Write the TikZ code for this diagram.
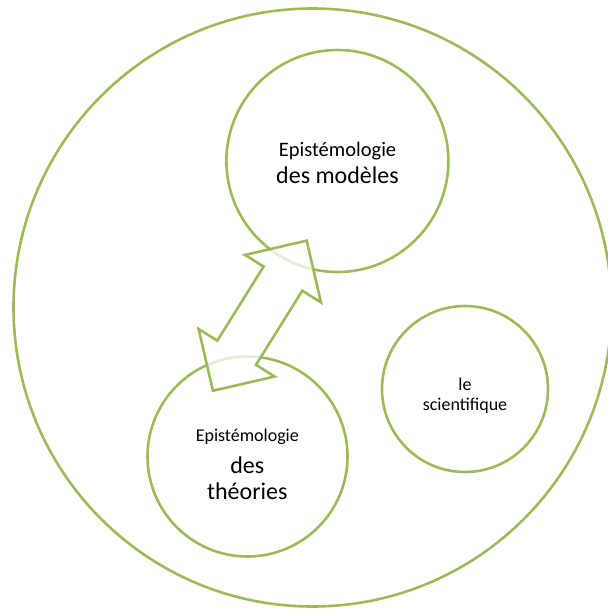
\documentclass[tikz,border=0pt]{standalone}
\usepackage{fontspec}
\setmainfont{Carlito}
\usetikzlibrary{shapes.arrows, positioning}
\definecolor{leafgreen}{RGB}{155,187,89}
\tikzstyle{ring} = [draw=leafgreen, line width=2.6pt, circle, inner sep=0pt]
\tikzstyle{word} = [anchor=base, text=black]

\begin{document}
\begin{tikzpicture}[x=1pt, y=-1pt]
    \useasboundingbox (0,0) rectangle (608,614);
    \node[ring, minimum size=598pt] (world) at (312.5,307.5) {};
    \node[ring, minimum size=222pt] (models) at (337.4,161) {};
    \node[ring, minimum size=200pt] (theories) at (247.5,456.5) {};
    \node[ring, minimum size=166pt] (scient) at (465,389) {};
    \node[double arrow, draw=leafgreen, line width=2.6pt, fill=white, fill opacity=0.75,
          minimum height=177pt, minimum width=87pt, inner xsep=0pt, inner ysep=21.5pt,
          double arrow head extend=22pt, rotate=58] (link) at (259.8,315.7) {};
    \node[word, font=\fontsize{20.5}{25}\selectfont] (mtop) at (337.5,156) {Epistémologie};
    \node[word, font=\fontsize{24}{29}\selectfont] (mbot) at (337.5,183.3) {des modèles};
    \node[word, font=\fontsize{18}{22}\selectfont] (ttop) at (247.3,441.7) {Epistémologie};
    \node[word, font=\fontsize{24}{29}\selectfont] (tmid) at (247.3,473.3) {des};
    \node[word, font=\fontsize{24}{29}\selectfont] (tbot) at (247.3,499.3) {théories};
    \node[word, font=\fontsize{18}{22}\selectfont] (stop) at (465,390) {le};
    \node[word, font=\fontsize{18}{22}\selectfont] (sbot) at (465,410) {scientifique};
\end{tikzpicture}
\end{document}
